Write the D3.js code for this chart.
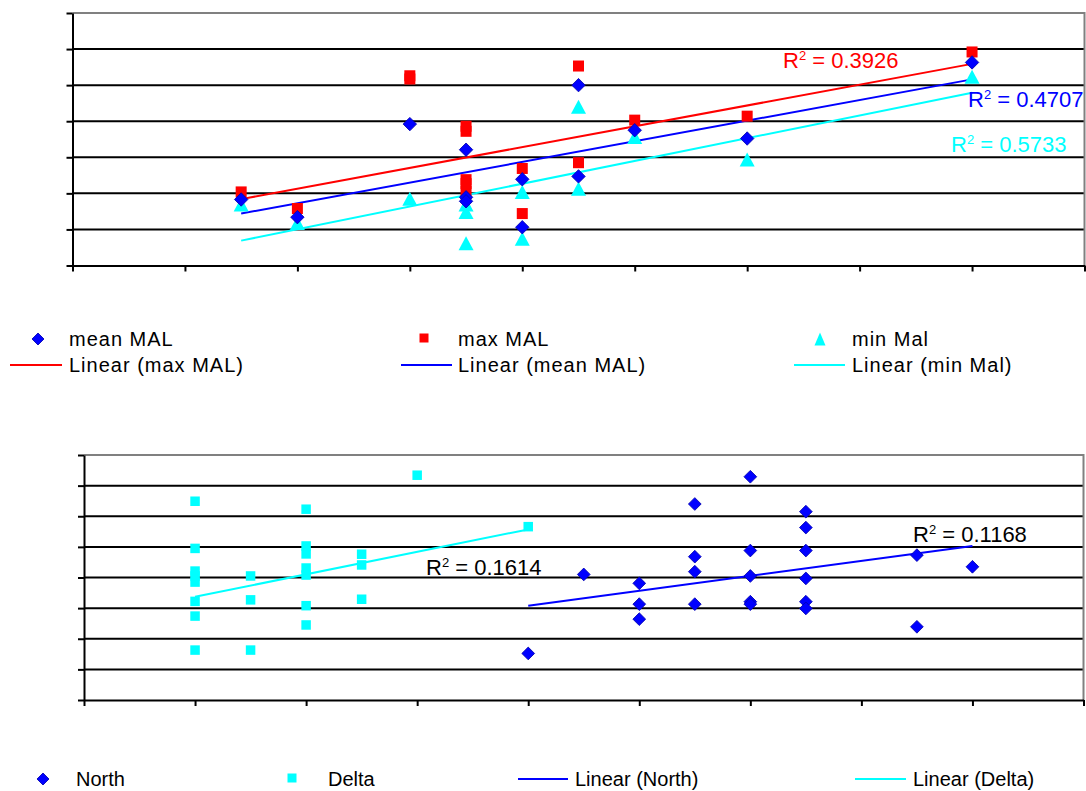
<!DOCTYPE html>
<html>
<head>
<meta charset="utf-8">
<script src="https://cdn.jsdelivr.net/npm/d3@7"></script>
<style>
  body { margin: 0; background: #fff; }
  svg { display: block; font-family: "Liberation Sans", Arial, sans-serif; }
</style>
</head>
<body>
<svg id="chart" width="1086" height="791"></svg>
<script>
// ---- data, top chart (x, y) ----
const meanMAL = [[1.5,1.83],[2,1.34],[3,3.92],[3.5,3.21],[3.5,1.89],[3.5,1.78],[4,2.39],[4,1.06],
  [4.5,5.0],[4.5,2.47],[5,3.75],[6,3.52],[8,5.63]];
const maxMAL = [[1.5,2.04],[2,1.58],[3,5.26],[3,5.17],[3.5,3.86],[3.5,3.72],[3.5,2.38],[3.5,2.27],[3.5,2.06],
  [4,2.69],[4,1.44],[4.5,5.53],[4.5,2.85],[5,4.03],[6,4.14],[8,5.92]];
const minMal = [[1.5,1.69],[2,1.18],[3,1.85],[3.5,1.69],[3.5,1.48],[3.5,0.62],[4,2.04],[4,0.74],
  [4.5,4.40],[4.5,2.13],[5,3.56],[6,2.94],[8,5.23]];
// trendlines (start, end)
const trendMax = [[1.5,1.84],[8,5.59]];
const trendMean = [[1.5,1.44],[8,5.16]];
const trendMin = [[1.5,0.69],[8,4.79]];
const r2Top = ["0.3926", "0.4707", "0.5733"];

// ---- data, bottom chart ----
const north = [[4,1.52],[4.5,4.10],[5,3.81],[5,3.13],[5,2.64],[5.5,6.40],[5.5,4.68],[5.5,4.19],[5.5,3.13],
  [6,7.29],[6,4.88],[6,4.05],[6,3.21],[6,3.13],[6.5,6.15],[6.5,5.63],[6.5,4.88],[6.5,3.97],[6.5,3.21],[6.5,2.99],
  [7.5,4.73],[7.5,2.39],[8,4.35]];
const delta = [[1,6.49],[1,4.95],[1,4.21],[1,4.05],[1,3.85],[1,3.22],[1,2.74],[1,1.63],
  [1.5,4.05],[1.5,3.27],[1.5,1.63],
  [2,6.23],[2,5.03],[2,4.77],[2,4.31],[2,4.08],[2,3.08],[2,2.45],
  [2.5,4.76],[2.5,4.41],[2.5,3.29],[3,7.34],[4,5.66]];
const trendNorth = [[4,3.08],[8,5.03]];
const trendDelta = [[1,3.37],[4,5.57]];
const r2Bottom = ["0.1614", "0.1168"];

const BLUE = "#0000ff", RED = "#ff0000", CYAN = "#00ffff";

const svg = d3.select("#chart");

// marker helpers
function diamond(g, x, y, d) {
  g.append("rect").attr("x", -d/2).attr("y", -d/2).attr("width", d).attr("height", d)
    .attr("transform", `translate(${x},${y}) rotate(45)`)
    .attr("fill", BLUE).attr("stroke", "#0000b0").attr("stroke-width", 0.8);
}
function square(g, x, y, s, c) {
  g.append("rect").attr("x", x - s/2).attr("y", y - s/2).attr("width", s).attr("height", s).attr("fill", c);
}
function triangle(g, x, y, w, h) {
  g.append("path").attr("d", `M${x},${y - h/2}L${x + w/2},${y + h/2}L${x - w/2},${y + h/2}Z`).attr("fill", CYAN);
}

// frame: grid, border, axes
function frame(x, y, nx, ny) {
  const g = svg.append("g");
  const [x0, x1] = x.range();
  g.selectAll(".grid").data(d3.range(1, ny)).enter().append("line")
    .attr("x1", x0).attr("x2", x1).attr("y1", d => y(d)).attr("y2", d => y(d))
    .attr("stroke", "#000").attr("stroke-width", 2);
  // top and right border
  g.append("path").attr("d", `M${x0},${y(ny)}H${x1}V${y(0)}`)
    .attr("fill", "none").attr("stroke", "#808080").attr("stroke-width", 2);
  g.append("g").attr("transform", `translate(${x0},0)`)
    .call(d3.axisLeft(y).tickValues(d3.range(0, ny + 1)).tickSize(6).tickSizeOuter(0).tickFormat(""));
  g.append("g").attr("transform", `translate(0,${y(0)})`)
    .call(d3.axisBottom(x).tickValues(d3.range(0, nx + 1)).tickSize(6).tickSizeOuter(0).tickFormat(""));
  g.selectAll(".domain, .tick line").attr("stroke", "#000").attr("stroke-width", 2);
  return g;
}

function trend(g, x, y, pts, c) {
  g.append("path").datum(pts)
    .attr("d", d3.line().x(d => x(d[0])).y(d => y(d[1])))
    .attr("fill", "none").attr("stroke", c).attr("stroke-width", 2);
}

function r2(g, px, py, val, c) {
  const t = g.append("text").attr("x", px).attr("y", py).attr("fill", c).attr("font-size", 22);
  t.append("tspan").text("R");
  t.append("tspan").attr("font-size", 13).attr("dy", -8).text("2");
  t.append("tspan").attr("dy", 8).text(" = " + val);
}

// ---- top chart ----
const xTop = d3.scaleLinear().domain([0, 9]).range([72.5, 1084.5]);
const yTop = d3.scaleLinear().domain([0, 7]).range([265.5, 13]);
const gTop = frame(xTop, yTop, 9, 7);

trend(gTop, xTop, yTop, trendMax, RED);
trend(gTop, xTop, yTop, trendMean, BLUE);
trend(gTop, xTop, yTop, trendMin, CYAN);

minMal.forEach(d => triangle(gTop, xTop(d[0]), yTop(d[1]), 15, 14));
maxMAL.forEach(d => square(gTop, xTop(d[0]), yTop(d[1]), 11, RED));
meanMAL.forEach(d => diamond(gTop, xTop(d[0]), yTop(d[1]), 9.5));

r2(gTop, 783, 68, r2Top[0], RED);
r2(gTop, 968, 106.5, r2Top[1], BLUE);
r2(gTop, 951, 151.5, r2Top[2], CYAN);

// top legend
const legTop = svg.append("g").attr("font-size", 20).attr("letter-spacing", 1).attr("fill", "#000");
diamond(legTop, 38, 339, 8.5);
square(legTop, 424, 338, 9, RED);
triangle(legTop, 820, 339, 11, 13);
[["mean MAL", 69, 346], ["max MAL", 458, 346], ["min Mal", 852, 346],
 ["Linear (max MAL)", 69, 372], ["Linear (mean MAL)", 458, 372], ["Linear (min Mal)", 852, 372]]
  .forEach(d => legTop.append("text").attr("x", d[1]).attr("y", d[2]).text(d[0]));
[[10, 62, RED], [401, 452, BLUE], [794, 845, CYAN]].forEach(d =>
  legTop.append("line").attr("x1", d[0]).attr("x2", d[1]).attr("y1", 365).attr("y2", 365)
    .attr("stroke", d[2]).attr("stroke-width", 2));

// ---- bottom chart ----
const xBot = d3.scaleLinear().domain([0, 9]).range([84, 1083.5]);
const yBot = d3.scaleLinear().domain([0, 8]).range([700, 455]);
const gBot = frame(xBot, yBot, 9, 8);

trend(gBot, xBot, yBot, trendDelta, CYAN);
trend(gBot, xBot, yBot, trendNorth, BLUE);

delta.forEach(d => square(gBot, xBot(d[0]), yBot(d[1]), 9.5, CYAN));
north.forEach(d => diamond(gBot, xBot(d[0]), yBot(d[1]), 9));

r2(gBot, 426, 575, r2Bottom[0], "#000");
r2(gBot, 913, 542, r2Bottom[1], "#000");

// bottom legend
const legBot = svg.append("g").attr("font-size", 20).attr("fill", "#000");
diamond(legBot, 43, 779, 8.5);
square(legBot, 292, 778, 9, CYAN);
[["North", 76, 786], ["Delta", 328, 786], ["Linear (North)", 575, 786], ["Linear (Delta)", 913, 786]]
  .forEach(d => legBot.append("text").attr("x", d[1]).attr("y", d[2]).text(d[0]));
[[518, 568, BLUE], [855, 906, CYAN]].forEach(d =>
  legBot.append("line").attr("x1", d[0]).attr("x2", d[1]).attr("y1", 779).attr("y2", 779)
    .attr("stroke", d[2]).attr("stroke-width", 2));
</script>
</body>
</html>
